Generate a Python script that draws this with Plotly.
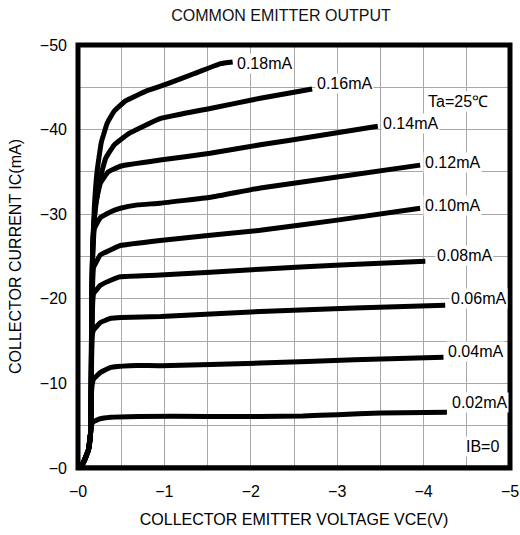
import plotly.graph_objects as go

# Collector-emitter voltage VCE (V) and collector current IC (mA) for each base current
base_labels = ["0.18mA", "0.16mA", "0.14mA", "0.12mA", "0.10mA",
               "0.08mA", "0.06mA", "0.04mA", "0.02mA"]

vce_018 = [0, -0.06, -0.12, -0.145, -0.15, -0.155, -0.16, -0.17, -0.19, -0.22, -0.27, -0.34, -0.42, -0.55, -0.80, -1.03, -1.34, -1.65, -1.79]
ic_018 = [0, -0.6, -2.1, -4.1, -8, -14, -20, -26, -31, -35, -38.5, -40.8, -42.2, -43.4, -44.6, -45.4, -46.6, -47.8, -48.0]

vce_016 = [0, -0.06, -0.12, -0.145, -0.15, -0.155, -0.16, -0.17, -0.20, -0.25, -0.32, -0.42, -0.60, -0.95, -1.53, -2.11, -2.71]
ic_016 = [0, -0.6, -2.1, -4.1, -8, -14, -20, -26, -30.5, -34, -36.6, -38.2, -39.6, -41.3, -42.5, -43.7, -44.8]

vce_014 = [0, -0.06, -0.12, -0.145, -0.155, -0.16, -0.17, -0.20, -0.26, -0.35, -0.50, -0.95, -1.53, -2.11, -2.8, -3.47]
ic_014 = [0, -0.6, -2.1, -4.1, -10, -20, -26.5, -31, -33.7, -35.0, -35.7, -36.4, -37.2, -38.2, -39.3, -40.4]

vce_012 = [0, -0.06, -0.12, -0.145, -0.155, -0.16, -0.17, -0.19, -0.26, -0.38, -0.49, -0.69, -0.95, -1.53, -2.11, -3.0, -3.96]
ic_012 = [0, -0.6, -2.1, -4.1, -10, -20, -25, -28.3, -29.6, -30.3, -30.7, -31.1, -31.3, -32.0, -33.1, -34.4, -35.8]

vce_010 = [0, -0.06, -0.12, -0.145, -0.155, -0.16, -0.17, -0.18, -0.26, -0.38, -0.49, -0.95, -2.11, -3.0, -3.96]
ic_010 = [0, -0.6, -2.1, -4.1, -10, -18, -22, -23.7, -25.2, -25.8, -26.3, -26.9, -28.1, -29.3, -30.7]

vce_008 = [0, -0.06, -0.12, -0.145, -0.155, -0.16, -0.17, -0.18, -0.26, -0.38, -0.49, -0.95, -2.11, -3.04, -4.02]
ic_008 = [0, -0.6, -2.1, -4.1, -10, -16, -19.5, -20.6, -21.6, -22.2, -22.6, -22.8, -23.5, -24.0, -24.45]

vce_006 = [0, -0.06, -0.12, -0.145, -0.15, -0.155, -0.16, -0.18, -0.26, -0.38, -0.50, -0.96, -2.11, -3.2, -4.25]
ic_006 = [0, -0.6, -2.1, -4.1, -8, -13, -15.3, -16.3, -17.2, -17.7, -17.8, -17.9, -18.5, -18.9, -19.25]

vce_004 = [0, -0.06, -0.12, -0.145, -0.15, -0.16, -0.18, -0.26, -0.38, -0.60, -0.96, -2.11, -3.2, -4.23]
ic_004 = [0, -0.6, -2.1, -4.1, -7, -9.5, -10.5, -11.3, -11.9, -12.1, -12.1, -12.4, -12.8, -13.1]

vce_002 = [0, -0.06, -0.12, -0.145, -0.155, -0.17, -0.25, -0.38, -0.70, -1.5, -2.1, -2.6, -3.0, -3.5, -4.27]
ic_002 = [0, -0.6, -2.1, -4.1, -5.0, -5.4, -5.8, -6.0, -6.1, -6.1, -6.1, -6.15, -6.3, -6.5, -6.6]

vce_000 = [0, -5]
ic_000 = [0, 0]

curves = [
    (vce_018, ic_018), (vce_016, ic_016), (vce_014, ic_014),
    (vce_012, ic_012), (vce_010, ic_010), (vce_008, ic_008),
    (vce_006, ic_006), (vce_004, ic_004), (vce_002, ic_002),
]

# Label offsets (px) relative to each curve's end point
label_shift = [(2, -2), (3, 5), (3, 3), (3, 3), (3, 3), (10, 6), (4, 7), (3, 6), (3, 10)]

x_ticks = [0, -1, -2, -3, -4, -5]
x_tick_text = ["\u22120", "\u22121", "\u22122", "\u22123", "\u22124", "\u22125"]
y_ticks = [0, -10, -20, -30, -40, -50]
y_tick_text = ["\u22120", "\u221210", "\u221220", "\u221230", "\u221240", "\u221250"]
x_minor = [-0.5, -1.5, -2.5, -3.5, -4.5]
y_minor = [-5, -15, -25, -35, -45]

FONT = "Liberation Sans, Arial, sans-serif"
GRID = "#a8a8a8"

fig = go.Figure()

fig.add_trace(go.Scatter(x=vce_000, y=ic_000, mode="lines",
                         line=dict(color="black", width=5), hoverinfo="skip"))

for (vx, iy), name in zip(curves, base_labels):
    fig.add_trace(go.Scatter(
        x=vx, y=iy, mode="lines", name=name,
        line=dict(color="black", width=5, shape="spline", smoothing=0.3),
    ))

annotations = []
for (vx, iy), name, (dx, dy) in zip(curves, base_labels, label_shift):
    annotations.append(dict(
        x=vx[-1], y=iy[-1], xref="x", yref="y", text=name, showarrow=False,
        xanchor="left", yanchor="middle", xshift=dx, yshift=dy,
        bgcolor="white", borderpad=1, font=dict(family=FONT, size=16, color="black"),
    ))

annotations.append(dict(
    x=457 / 520, y=1 - 72 / 535, xref="paper", yref="paper", text="Ta=25\u2103",
    showarrow=False, xanchor="center", yanchor="middle", bgcolor="white",
    font=dict(family=FONT, size=16, color="black"),
))
annotations.append(dict(
    x=-4.68, y=-2.5, xref="x", yref="y", text="IB=0",
    showarrow=False, xanchor="center", yanchor="middle", bgcolor="white",
    font=dict(family=FONT, size=16, color="black"),
))

fig.update_layout(
    width=520, height=535,
    margin=dict(l=78, r=10, t=45, b=67, autoexpand=False),
    paper_bgcolor="white", plot_bgcolor="white",
    showlegend=False,
    font=dict(family=FONT, size=16, color="black"),
    title=dict(text="COMMON EMITTER OUTPUT", x=281 / 520, xanchor="center",
               y=1 - 15 / 535, yanchor="middle", yref="container",
               font=dict(family=FONT, size=16, color="#111")),
    annotations=annotations,
    shapes=[dict(type="rect", xref="paper", yref="paper", x0=0, x1=1, y0=0, y1=1,
                 line=dict(color="black", width=5), layer="above")],
)

fig.update_xaxes(
    range=[0, -5], tickmode="array", tickvals=x_ticks, ticktext=x_tick_text,
    showgrid=True, gridcolor=GRID, gridwidth=1, zeroline=False, showline=False,
    ticks="", ticklabelstandoff=12, automargin=False,
    minor=dict(tickmode="array", tickvals=x_minor, showgrid=True, gridcolor=GRID, gridwidth=1),
    title=dict(text="COLLECTOR EMITTER VOLTAGE VCE(V)", standoff=14,
               font=dict(family=FONT, size=16, color="black")),
)
fig.update_yaxes(
    range=[0, -50], tickmode="array", tickvals=y_ticks, ticktext=y_tick_text,
    showgrid=True, gridcolor=GRID, gridwidth=1, zeroline=False, showline=False,
    ticks="", ticklabelstandoff=10, automargin=False,
    minor=dict(tickmode="array", tickvals=y_minor, showgrid=True, gridcolor=GRID, gridwidth=1),
    title=dict(text="COLLECTOR CURRENT IC(mA)", standoff=14,
               font=dict(family=FONT, size=16, color="black")),
)

fig.write_html("out.html")
